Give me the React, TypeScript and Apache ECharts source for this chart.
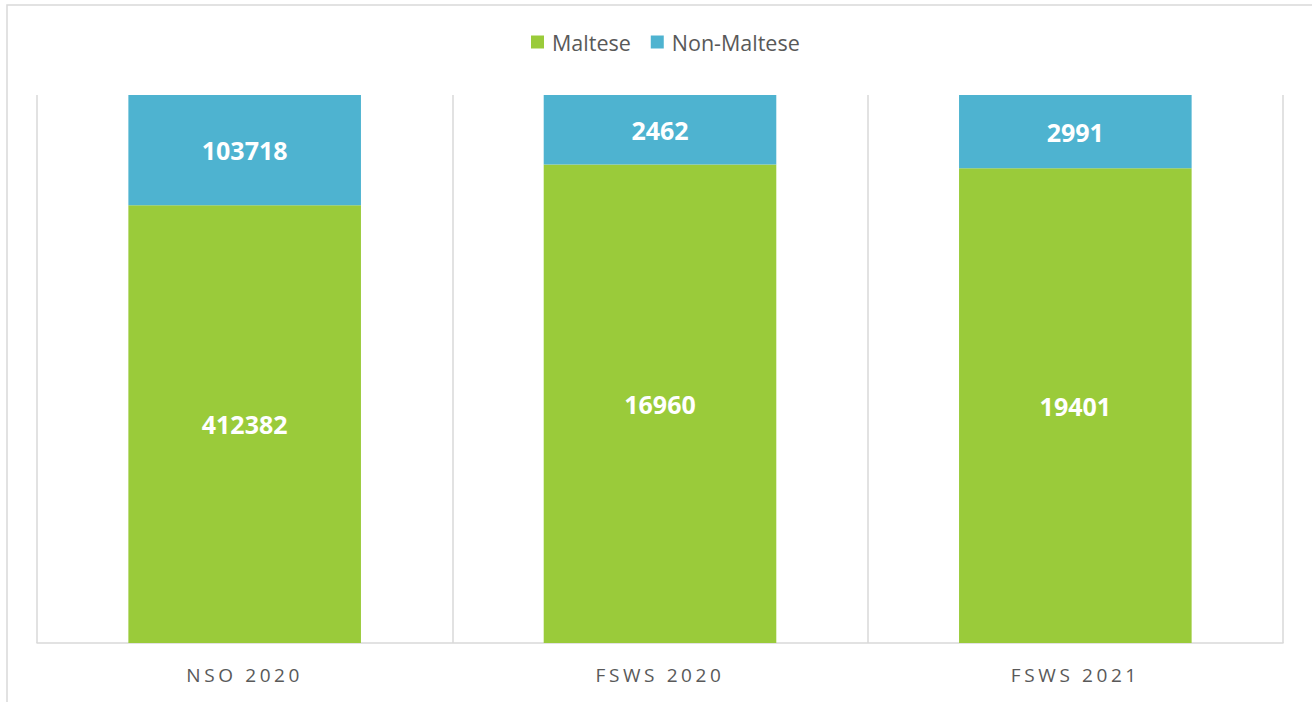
import React, { useEffect, useRef } from "react";
import * as echarts from "echarts";

const categories = ["NSO 2020", "FSWS 2020", "FSWS 2021"];
const maltese = [412382, 16960, 19401];
const nonMaltese = [103718, 2462, 2991];
const seriesNames = ["Maltese", "Non-Maltese"];
const colors = ["#9ACB3A", "#4EB3D0"];

export default function App() {
  const ref = useRef<HTMLDivElement>(null);
  useEffect(() => {
    if (!ref.current) return;
    const chart = echarts.init(ref.current, undefined, { renderer: "svg" });
    const totals = categories.map((_, i) => maltese[i] + nonMaltese[i]);
    const toPct = (arr: number[]) =>
      arr.map((v, i) => ({ value: (v / totals[i]) * 100, raw: v }));
    const labelCfg = {
      show: true,
      position: "inside",
      color: "#ffffff",
      fontFamily: "Open Sans",
      fontWeight: "bold",
      fontSize: 25,
      formatter: (p: any) => String(p.data.raw),
    };
    chart.setOption({
      animation: false,
      color: colors,
      graphic: [
        {
          type: "rect",
          shape: { x: 7, y: 5, width: 1400, height: 800 },
          style: { fill: "none", stroke: "#d9d9d9", lineWidth: 1.5 },
          silent: true,
        },
      ],
      legend: {
        top: 31,
        left: 531,
        padding: 0,
        itemWidth: 13,
        itemHeight: 13,
        itemGap: 20,
        icon: "rect",
        textStyle: { color: "#595959", fontFamily: "Open Sans", fontSize: 21.5, padding: [0, 0, 0, 3] },
        data: seriesNames,
      },
      grid: { left: 37, right: 29, top: 95, bottom: 59, containLabel: false },
      xAxis: {
        type: "category",
        data: categories,
        boundaryGap: true,
        axisLine: { show: true, lineStyle: { color: "#d9d9d9", width: 1.5 } },
        axisTick: { show: false },
        splitLine: { show: true, interval: 0, lineStyle: { color: "#d9d9d9", width: 1.5 } },
        axisLabel: {
          color: "#595959",
          fontFamily: "Open Sans",
          fontSize: 19,
          margin: 22,
        },
      },
      yAxis: {
        type: "value",
        min: 0,
        max: 100,
        show: false,
        splitLine: { show: false },
      },
      series: [
        {
          name: seriesNames[0],
          type: "bar",
          stack: "total",
          barWidth: "56%",
          data: toPct(maltese),
          label: labelCfg,
        },
        {
          name: seriesNames[1],
          type: "bar",
          stack: "total",
          barWidth: "56%",
          data: toPct(nonMaltese),
          label: labelCfg,
        },
      ],
    });
    const texts = ref.current.querySelectorAll("text");
    texts.forEach((t) => {
      if (categories.includes((t.textContent || "").trim())) {
        (t as SVGTextElement).style.letterSpacing = "3.6px";
      }
    });
    return () => chart.dispose();
  }, []);
  return (
    <div
      ref={ref}
      style={{ position: "fixed", left: 0, top: 0, width: 1312, height: 702, background: "#fff" }}
    />
  );
}
